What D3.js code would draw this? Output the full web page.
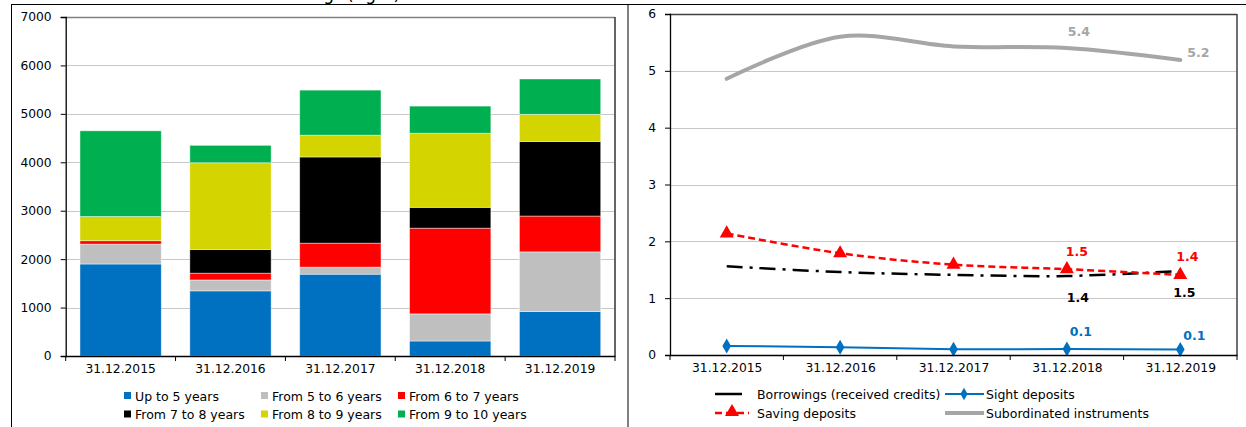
<!DOCTYPE html>
<html><head><meta charset="utf-8">
<script src="https://cdn.jsdelivr.net/npm/d3@7"></script>
<style>body{margin:0;background:#fff;}svg{display:block;font-family:"DejaVu Sans",Verdana,sans-serif;}</style>
</head><body>
<svg id="c" width="1246" height="427"></svg>
<script>
const categories = ["31.12.2015","31.12.2016","31.12.2017","31.12.2018","31.12.2019"];
// Left chart (stacked bars)
const barSeriesNames = ["Up to 5 years","From 5 to 6 years","From 6 to 7 years","From 7 to 8 years","From 8 to 9 years","From 9 to 10 years"];
const upTo5   = [1900, 1345, 1690,  310,  920];
const from5to6= [ 410,  225,  145,  560, 1230];
const from6to7= [  70,  140,  495, 1770,  740];
const from7to8= [   0,  490, 1780,  430, 1540];
const from8to9= [ 500, 1790,  450, 1530,  560];
const from9to10=[1770,  360,  930,  560,  730];
const barColors = ["#0070C0","#BFBFBF","#FF0000","#000000","#D4D400","#00B050"];
const leftTicks = [0,1000,2000,3000,4000,5000,6000,7000];
// Right chart (lines)
const lineSeriesNames = ["Borrowings (received credits)","Sight deposits","Saving deposits","Subordinated instruments"];
const borrowings   = [1.56, 1.46, 1.41, 1.39, 1.48];
const sightDeposits= [0.16, 0.135, 0.10, 0.105, 0.095];
const savingDeposits=[2.14, 1.79, 1.59, 1.51, 1.41];
const subordinated = [4.86, 5.60, 5.43, 5.40, 5.19];
const rightTicks = [0,1,2,3,4,5,6];
const labelsBorrowings = ["","","","1.4","1.5"];
const labelsSight = ["","","","0.1","0.1"];
const labelsSaving = ["","","","1.5","1.4"];
const labelsSubordinated = ["","","","5.4","5.2"];

const svg = d3.select("#c");
const fs = 12.3;
const lfs = 12.5;

// frame
svg.append("line").attr("x1",11).attr("x2",1246).attr("y1",4.5).attr("y2",4.5).attr("stroke","#000").attr("stroke-width",1);
svg.append("line").attr("x1",11.5).attr("x2",11.5).attr("y1",4).attr("y2",427).attr("stroke","#000").attr("stroke-width",1);
svg.append("line").attr("x1",628).attr("x2",628).attr("y1",4).attr("y2",427).attr("stroke","#000").attr("stroke-width",1);
// cut-off title (only descenders visible in the reference)
svg.append("text").attr("x",334).attr("y",0).attr("text-anchor","end").attr("font-size",17).text("Lending");
svg.append("text").attr("x",347).attr("y",0).attr("font-size",17).text("(right)");

// ---------- LEFT ----------
const L = {x0:65.7, x1:615, y0:356, y1:17};
const xb = d3.scaleBand().domain(categories).range([L.x0,L.x1]).paddingInner(0.26).paddingOuter(0.13);
const yl = d3.scaleLinear().domain([0,7000]).range([L.y0,L.y1]);
const gL = svg.append("g");
gL.selectAll("line.grid").data(leftTicks.slice(1)).enter().append("line")
  .attr("x1",L.x0).attr("x2",L.x1).attr("y1",d=>Math.round(yl(d))+0.5).attr("y2",d=>Math.round(yl(d))+0.5)
  .attr("stroke",d=>d===7000?"#808080":"#C8C8C8").attr("stroke-width",d=>d===7000?1.5:1);
const rows = categories.map((c,i)=>({cat:c, v:[upTo5[i],from5to6[i],from6to7[i],from7to8[i],from8to9[i],from9to10[i]]}));
const stackData = rows.map(r=>{const o={cat:r.cat}; barSeriesNames.forEach((n,k)=>o[n]=r.v[k]); return o;});
const stacked = d3.stack().keys(barSeriesNames)(stackData);
stacked.forEach((s,k)=>{
  gL.selectAll(null).data(s.filter(d=>d[1]-d[0]>0)).enter().append("rect")
    .attr("x",d=>xb(d.data.cat)).attr("width",xb.bandwidth())
    .attr("y",d=>yl(d[1])).attr("height",d=>yl(d[0])-yl(d[1]))
    .attr("fill",barColors[k]).attr("stroke","rgba(255,255,255,0.55)").attr("stroke-width",0.8);
});
gL.append("line").attr("x1",L.x1).attr("x2",L.x1).attr("y1",L.y1).attr("y2",L.y0).attr("stroke","#333").attr("stroke-width",1.5);
const yAxisL = d3.axisLeft(yl).tickValues(leftTicks).tickSize(5).tickPadding(9).tickFormat(d3.format("d"));
const gyl = svg.append("g").attr("transform",`translate(${L.x0},0)`).call(yAxisL);
gyl.select(".domain").attr("stroke","#000").attr("stroke-width",1.3);
gyl.selectAll("text").attr("font-size",fs).attr("font-family","DejaVu Sans").attr("fill","#000");
const xAxisL = d3.axisBottom(xb).tickSize(0).tickPadding(8);
const gxl = svg.append("g").attr("transform",`translate(0,${L.y0})`).call(xAxisL);
gxl.select(".domain").attr("stroke","#000").attr("stroke-width",1.3);
gxl.selectAll("text").attr("font-size",fs).attr("font-family","DejaVu Sans").attr("fill","#000");
const bounds = d3.range(categories.length+1).map(i=>L.x0+i*xb.step());
gxl.selectAll("line.bt").data(bounds).enter().append("line").attr("x1",d=>d).attr("x2",d=>d).attr("y1",0).attr("y2",5).attr("stroke","#000");
// left legend
const legL = svg.append("g");
barSeriesNames.forEach((n,k)=>{
  const col = k%3, row = Math.floor(k/3);
  const x = 124 + col*137, y = 396 + row*18.5;
  legL.append("rect").attr("x",x).attr("y",y-4).attr("width",7).attr("height",7).attr("fill",barColors[k]);
  legL.append("text").attr("x",x+11).attr("y",y+4.5).attr("font-size",lfs).text(n);
});

// ---------- RIGHT ----------
const R = {x0:670, x1:1237, y0:355, y1:14};
const xp = d3.scalePoint().domain(categories).range([R.x0,R.x1]).padding(0.5);
const yr = d3.scaleLinear().domain([0,6]).range([R.y0,R.y1]);
const gR = svg.append("g");
gR.selectAll("line.grid").data(rightTicks.slice(1)).enter().append("line")
  .attr("x1",R.x0).attr("x2",R.x1).attr("y1",d=>Math.round(yr(d))+0.5).attr("y2",d=>Math.round(yr(d))+0.5)
  .attr("stroke",d=>d===6?"#404040":"#C8C8C8").attr("stroke-width",d=>d===6?1.5:1);
gR.append("line").attr("x1",R.x1).attr("x2",R.x1).attr("y1",R.y1).attr("y2",R.y0).attr("stroke","#404040").attr("stroke-width",1.5);
const yAxisR = d3.axisLeft(yr).tickValues(rightTicks).tickSize(5).tickPadding(9).tickFormat(d3.format("d"));
const gyr = svg.append("g").attr("transform",`translate(${R.x0},0)`).call(yAxisR);
gyr.select(".domain").attr("stroke","#000").attr("stroke-width",1.3);
gyr.selectAll("text").attr("font-size",fs).attr("font-family","DejaVu Sans").attr("fill","#000");
const xAxisR = d3.axisBottom(xp).tickSize(0).tickPadding(8);
const gxr = svg.append("g").attr("transform",`translate(0,${R.y0})`).call(xAxisR);
gxr.select(".domain").attr("stroke","#000").attr("stroke-width",1.3);
gxr.selectAll("text").attr("font-size",fs).attr("font-family","DejaVu Sans").attr("fill","#000");
const stepR = xp.step();
const boundsR = d3.range(categories.length+1).map(i=>R.x0+i*stepR);
gxr.selectAll("line.bt").data(boundsR).enter().append("line").attr("x1",d=>d).attr("x2",d=>d).attr("y1",0).attr("y2",5).attr("stroke","#000");

const smooth = d3.line().x((d,i)=>xp(categories[i])).y(d=>yr(d)).curve(d3.curveCatmullRom.alpha(0.5));
const straight = d3.line().x((d,i)=>xp(categories[i])).y(d=>yr(d));
gR.append("path").attr("d",smooth(subordinated)).attr("fill","none").attr("stroke","#A6A6A6").attr("stroke-width",4).attr("stroke-linecap","round");
gR.append("path").attr("d",smooth(borrowings)).attr("fill","none").attr("stroke","#000").attr("stroke-width",2.5).attr("stroke-dasharray","16,7,3,7");
gR.append("path").attr("d",smooth(savingDeposits)).attr("fill","none").attr("stroke","#FF0000").attr("stroke-width",2.5).attr("stroke-dasharray","7,4");
gR.append("path").attr("d",straight(sightDeposits)).attr("fill","none").attr("stroke","#0070C0").attr("stroke-width",2);
const tri = d3.symbol().type(d3.symbolTriangle).size(85);
const dia = d3.symbol().type(d3.symbolDiamond).size(65);
const diaLeg = d3.symbol().type(d3.symbolDiamond).size(45);
gR.selectAll(null).data(savingDeposits).enter().append("path").attr("d",tri)
  .attr("transform",(d,i)=>`translate(${xp(categories[i])},${yr(d)})`).attr("fill","#FF0000");
gR.selectAll(null).data(sightDeposits).enter().append("path").attr("d",dia)
  .attr("transform",(d,i)=>`translate(${xp(categories[i])},${yr(d)})`).attr("fill","#0070C0");

function labels(vals, labs, col, dx, dy){
  gR.selectAll(null).data(vals.map((v,i)=>({v,i,l:labs[i]})).filter(d=>d.l)).enter().append("text")
    .attr("x",d=>xp(categories[d.i])+dx[d.i]).attr("y",d=>yr(d.v)+dy[d.i])
    .attr("text-anchor","middle").attr("font-size",12.5).attr("font-weight","bold").attr("fill",col).text(d=>d.l);
}
labels(subordinated, labelsSubordinated, "#A6A6A6", [0,0,0,12,18], [0,0,0,-12,-3]);
labels(savingDeposits, labelsSaving, "#FF0000", [0,0,0,10,7], [0,0,0,-13,-14]);
labels(borrowings, labelsBorrowings, "#000", [0,0,0,11,4], [0,0,0,26,26]);
labels(sightDeposits, labelsSight, "#0070C0", [0,0,0,14,14], [0,0,0,-13,-10]);

// right legend
const legR = svg.append("g");
legR.append("line").attr("x1",715).attr("x2",742).attr("y1",394).attr("y2",394).attr("stroke","#000").attr("stroke-width",2.5);
legR.append("text").attr("x",757).attr("y",398.5).attr("font-size",lfs).text(lineSeriesNames[0]);
legR.append("line").attr("x1",945).attr("x2",984).attr("y1",394).attr("y2",394).attr("stroke","#0070C0").attr("stroke-width",2);
legR.append("path").attr("d",diaLeg).attr("transform","translate(964,394)").attr("fill","#0070C0");
legR.append("text").attr("x",986).attr("y",398.5).attr("font-size",lfs).text(lineSeriesNames[1]);
legR.append("line").attr("x1",715).attr("x2",749).attr("y1",413).attr("y2",413).attr("stroke","#FF0000").attr("stroke-width",2.5).attr("stroke-dasharray","7,4");
legR.append("path").attr("d",tri).attr("transform","translate(732,412)").attr("fill","#FF0000");
legR.append("text").attr("x",757).attr("y",417.5).attr("font-size",lfs).text(lineSeriesNames[2]);
legR.append("line").attr("x1",945).attr("x2",984).attr("y1",413).attr("y2",413).attr("stroke","#A6A6A6").attr("stroke-width",4);
legR.append("text").attr("x",986).attr("y",417.5).attr("font-size",lfs).text(lineSeriesNames[3]);
</script>
</body></html>
